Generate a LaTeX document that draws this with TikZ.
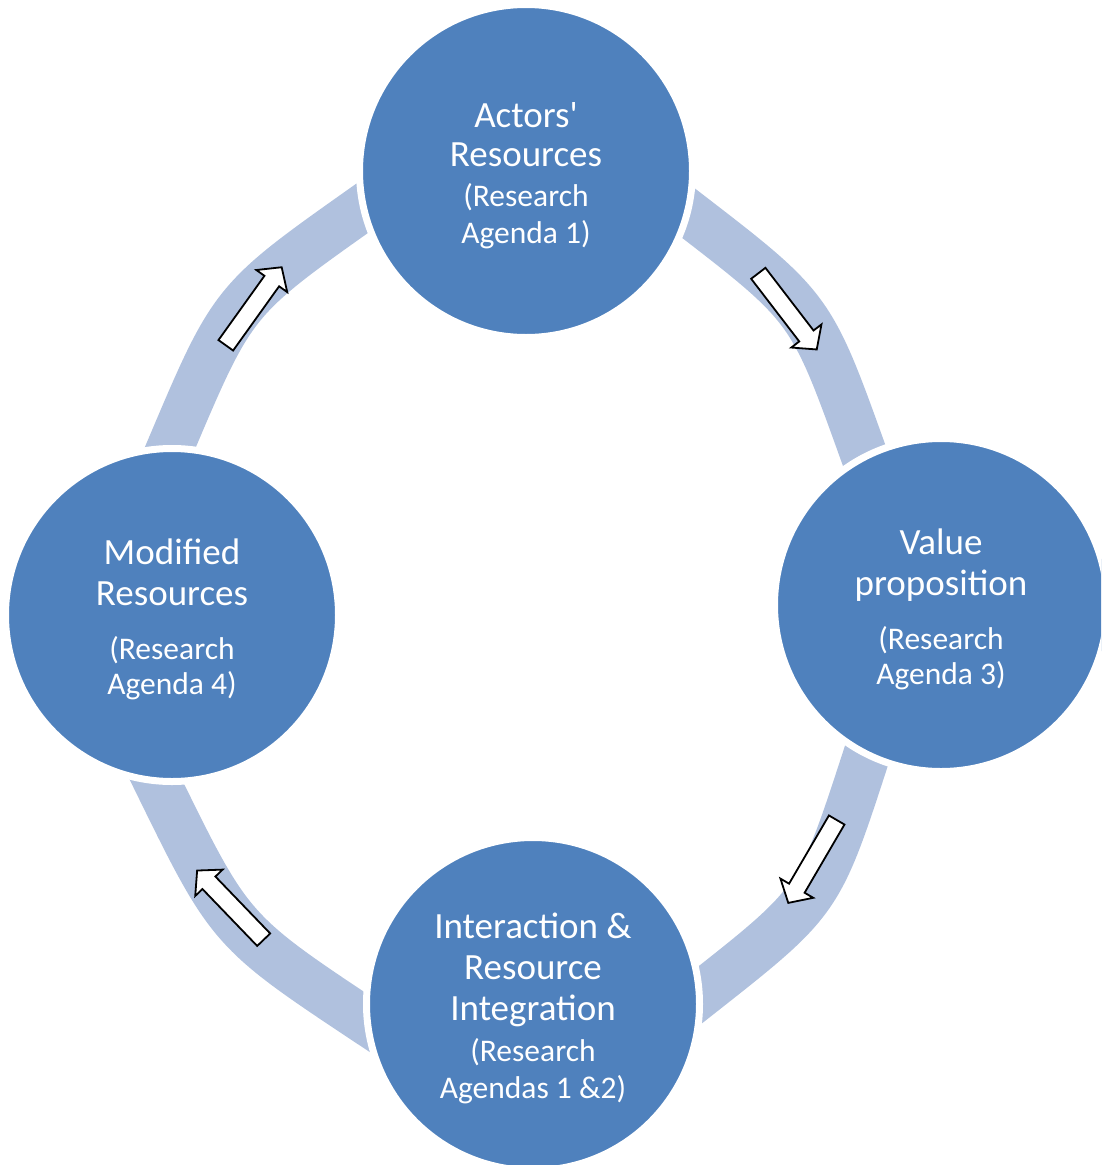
\documentclass[tikz,border=0pt]{standalone}
\usepackage{fontspec}
\newfontfamily\carl{Carlito}
\definecolor{nodeblue}{RGB}{79,129,189}
\definecolor{bandblue}{RGB}{176,193,222}
\newcommand{\Lgf}{\carl\fontsize{37}{41}\selectfont}
\newcommand{\Smf}{\carl\fontsize{31.5}{36}\selectfont}
\newcommand{\Tp}{\rule{0pt}{34pt}}
\pgfdeclarelayer{bg}
\pgfsetlayers{bg,main}
\tikzset{
  stage/.style={circle, fill=nodeblue, draw=white, line width=7pt,
    minimum size=333pt, inner sep=0pt, text=white, align=center, font=\Lgf},
  band/.style={draw=bandblue, line width=47pt, line join=round},
  barrow/.pic={\draw[black, line width=1.8pt, fill=white, line join=miter]
    (0,-9) -- (79,-9) -- (79,-19) -- (96,0) -- (79,19) -- (79,9) -- (0,9) -- cycle;}
}
\begin{document}
\begin{tikzpicture}[x=1pt, y=-1pt]
\useasboundingbox (0,0) rectangle (1101,1165);
\clip (0,0) rectangle (1101,1165);
\node[stage] (t) at (526,171) {\Tp Actors'\\[-2pt]Resources\\[-1pt]\Smf(Research\\[-4pt]\Smf Agenda 1)};
\node[stage] (r) at (941,605) {\Tp Value\\proposition\\[13pt]\Smf(Research\\[-6pt]\Smf Agenda 3)};
\node[stage] (b) at (533,1004) {\Tp Interaction \&\\Resource\\Integration\\\Smf(Research\\[-4pt]\Smf Agendas 1 \&2)};
\node[stage] (l) at (172,615) {\Tp Modified\\Resources\\[13pt]\Smf(Research\\[-6pt]\Smf Agenda 4)};
\begin{pgfonlayer}{bg}
\draw[band] (l.center) -- (158.3,475.6) -- (170,448) .. controls (232.7,299.9) .. (364,207) -- (388.5,189.7) -- (t.center);
\draw[band] (t.center) -- (663.2,193.7) -- (687,212) .. controls (811.1,307.6) .. (864,455) -- (874.1,483.2) -- (r.center);
\draw[band] (r.center) -- (875.3,728.5) -- (866,757) .. controls (819.1,901.2) .. (700,995) -- (676.4,1013.6) -- (b.center);
\draw[band] (b.center) -- (395,1040.6) -- (370,1024) .. controls (229.9,931) .. (156,780) -- (142.8,753.1) -- (l.center);
\end{pgfonlayer}
\pic[rotate=54.4] at (225.8,345.3) {barrow};
\pic[rotate=-52.5] at (758.3,273.3) {barrow};
\pic[rotate=-120.3] at (836.7,820) {barrow};
\pic[rotate=133.9] at (263.7,939.7) {barrow};
\end{tikzpicture}
\end{document}
